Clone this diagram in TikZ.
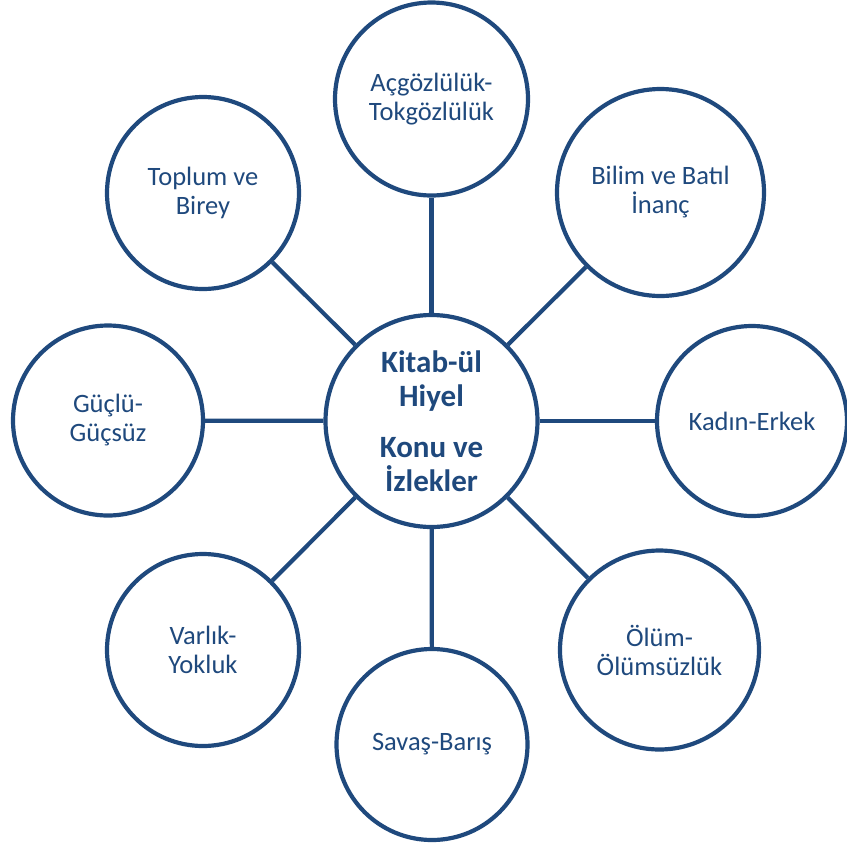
\documentclass[tikz,border=0pt]{standalone}
\usepackage{fontspec}
\setmainfont{Carlito}
\definecolor{navy}{HTML}{1F497D}
\begin{document}
\begin{tikzpicture}[x=1pt,y=-1pt,
  topic/.style={circle, draw=navy, line width=4.2pt, fill=white, inner sep=0pt,
    minimum size=#1, text=navy, align=center,
    font=\fontsize{26.5}{29}\selectfont},
  hub/.style={circle, draw=navy, line width=4.2pt, fill=white, inner sep=0pt,
    minimum size=212pt, text=navy, align=center,
    font=\fontsize{31}{34}\selectfont\bfseries},
  link/.style={draw=navy, line width=4.2pt}]
\useasboundingbox (0,0) rectangle (847,847);

% central theme
\node[hub] (hub) at (431.5,421) {Kitab-ül\\Hiyel\\[17pt]Konu ve\\İzlekler};

% surrounding topics
\node[topic=193pt] (t)  at (431.5,99)  {Açgözlülük-\\Tokgözlülük};
\node[topic=207pt] (tr) at (660.5,192.5) {Bilim ve Batıl\\İnanç};
\node[topic=190pt] (r)  at (752,421)   {Kadın-Erkek};
\node[topic=199pt] (br) at (659.5,650) {Ölüm-\\Ölümsüzlük};
\node[topic=191pt] (b)  at (432,744.5) {Savaş-Barış};
\node[topic=192pt] (bl) at (203,650)   {Varlık-\\Yokluk};
\node[topic=190pt] (l)  at (108,420.5) {Güçlü-\\Güçsüz};
\node[topic=192pt] (tl) at (203,193)   {Toplum ve\\Birey};

% spokes
\foreach \n in {t,tr,r,br,b,bl,l,tl}
  \draw[link] (hub) -- (\n);
\end{tikzpicture}
\end{document}
